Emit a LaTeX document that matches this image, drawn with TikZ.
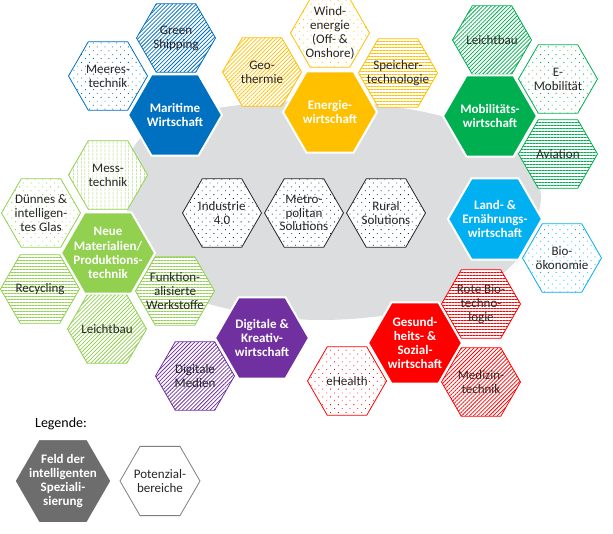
\documentclass[tikz,border=0pt]{standalone}
\usepackage{fontspec}
\setmainfont{Carlito}
\usetikzlibrary{shapes.geometric,patterns.meta}
\definecolor{cBlue}{HTML}{0070C0}
\definecolor{cYellow}{HTML}{FFC000}
\definecolor{cGreen}{HTML}{00B050}
\definecolor{cLBlue}{HTML}{00B0F0}
\definecolor{cRed}{HTML}{FF0000}
\definecolor{cPurple}{HTML}{7030A0}
\definecolor{cLGreen}{HTML}{92D050}
\definecolor{cGrey}{HTML}{6D6D6D}
\definecolor{cLine}{HTML}{7F7F7F}
\definecolor{cNavy}{HTML}{002060}
\definecolor{cBlob}{HTML}{DCDDDE}
\definecolor{cText}{HTML}{262626}
\tikzset{
  hexbase/.style={regular polygon, regular polygon sides=6, inner sep=0pt, outer sep=0pt},
  mainhex/.style={hexbase, minimum size=94pt, draw=white, line width=2pt, fill=#1},
  pothex/.style={hexbase, minimum size=79pt, line width=0.8pt, draw=#1, pattern color=#1, preaction={fill=white}},
  pdots/.style={pothex=#1, pattern={Dots[angle=45, distance=5.5pt, radius=0.6pt]}},
  plines/.style={pothex=#1, pattern={Lines[angle=45, distance=2.8pt, line width=0.75pt]}},
  phor/.style={pothex=#1, pattern={Lines[angle=0, distance=3pt, line width=0.9pt]}},
  pver/.style={pothex=#1, pattern={Lines[angle=90, distance=4pt, line width=0.9pt]}},
  maintxt/.style={align=center, inner sep=0pt, text=white, font=\bfseries\fontsize{13}{14.3}\selectfont},
  pottxt/.style={align=center, inner sep=0pt, text=cText, font=\fontsize{13}{13.8}\selectfont},
}
\begin{document}
\begin{tikzpicture}[x=1pt,y=-1pt]
\useasboundingbox (0,0) rectangle (613,533);
\fill[white] (0,0) rectangle (613,533);
% grey background blob
\fill[cBlob] plot[smooth cycle, tension=0.6] coordinates {
 (126,200) (135,145) (180,117) (240,105) (310,101) (380,105) (445,117)
 (505,140) (537,180) (538,215) (515,262) (470,292) (400,313) (320,320)
 (250,313) (190,297) (145,265)};

% potential areas
\node[plines=cBlue] (gs) at (176,38) {};
\node[pottxt] at (gs) {Green\\Shipping};
\node[pdots=cBlue] (mt) at (108,76) {};
\node[pottxt] at (mt) {Meeres-\\technik};
\node[plines=cYellow] (geo) at (262,72) {};
\node[pottxt] at (geo) {Geo-\\thermie};
\node[pdots=cYellow] (wind) at (330,33) {};
\node[pottxt] at (wind) {Wind-\\energie\\(Off- \&\\Onshore)};
\node[phor=cYellow] (spt) at (398,73) {};
\node[pottxt] at (spt) {Speicher-\\technologie};
\node[plines=cGreen] (lbm) at (492,40) {};
\node[pottxt] at (lbm) {Leichtbau};
\node[pdots=cGreen] (emo) at (558,79) {};
\node[pottxt] at (emo) {E-\\Mobilität};
\node[phor=cGreen] (avi) at (558,154) {};
\node[pottxt] at (avi) {Aviation};
\node[pdots=cLBlue] (bio) at (562,258) {};
\node[pottxt] at (bio) {Bio-\\ökonomie};
\node[phor=cRed] (rbt) at (481,304) {};
\node[pottxt] at (rbt) {Rote Bio-\\techno-\\logie};
\node[plines=cRed] (med) at (481,382) {};
\node[pottxt] at (med) {Medizin-\\technik};
\node[pdots=cRed] (eh) at (347,381) {};
\node[pottxt] at (eh) {eHealth};
\node[plines=cPurple] (dm) at (195,376) {};
\node[pottxt] at (dm) {Digitale\\Medien};
\node[phor=cLGreen] (fw) at (175,291) {};
\node[pottxt] at (fw) {Funktion-\\alisierte\\Werkstoffe};
\node[plines=cLGreen] (lbn) at (107,329) {};
\node[pottxt] at (lbn) {Leichtbau};
\node[phor=cLGreen] (rec) at (40,289) {};
\node[pottxt] at (rec) {Recycling};
\node[pdots=cLGreen] (glas) at (41,213) {};
\node[pottxt] at (glas) {Dünnes \&\\intelligen-\\tes Glas};
\node[pver=cLGreen] (mess) at (108,175) {};
\node[pottxt] at (mess) {Mess-\\technik};
\node[pdots=cNavy, draw=cText] (ind) at (222,213) {};
\node[pottxt] at (ind) {Industrie\\4.0};
\node[pdots=cNavy, draw=cText] (met) at (304,213) {};
\node[pottxt] at (met) {Metro-\\politan\\Solutions};
\node[pdots=cNavy, draw=cText] (rur) at (386,213) {};
\node[pottxt] at (rur) {Rural\\Solutions};

% fields of smart specialisation
\node[mainhex=cBlue] (mar) at (175,115) {};
\node[maintxt] at (mar) {Maritime\\Wirtschaft};
\node[mainhex=cYellow] (ene) at (330,112) {};
\node[maintxt] at (ene) {Energie-\\wirtschaft};
\node[mainhex=cGreen] (mob) at (490,116) {};
\node[maintxt] at (mob) {Mobilitäts-\\wirtschaft};
\node[mainhex=cLBlue] (land) at (495,219) {};
\node[maintxt] at (land) {Land- \&\\Ernährungs-\\wirtschaft};
\node[mainhex=cRed] (ges) at (415,343) {};
\node[maintxt] at (ges) {Gesund-\\heits- \&\\Sozial-\\wirtschaft};
\node[mainhex=cPurple] (dig) at (262,338) {};
\node[maintxt] at (dig) {Digitale \&\\Kreativ-\\wirtschaft};
\node[mainhex=cLGreen] (neu) at (108,253) {};
\node[maintxt] at (neu) {Neue\\Materialien/\\Produktions-\\technik};

% legend
\node[inner sep=0pt, font=\fontsize{14}{16}\selectfont, text=black] (leg) at (61,424) {Legende:};
\node[mainhex=cGrey, minimum size=97pt] (leg1) at (63,481) {};
\node[maintxt] at (leg1) {Feld der\\intelligenten\\Speziali-\\sierung};
\node[hexbase, minimum size=80pt, draw=cLine, line width=0.8pt, fill=white] (leg2) at (160,481) {};
\node[pottxt] at (leg2) {Potenzial-\\bereiche};
\end{tikzpicture}
\end{document}
